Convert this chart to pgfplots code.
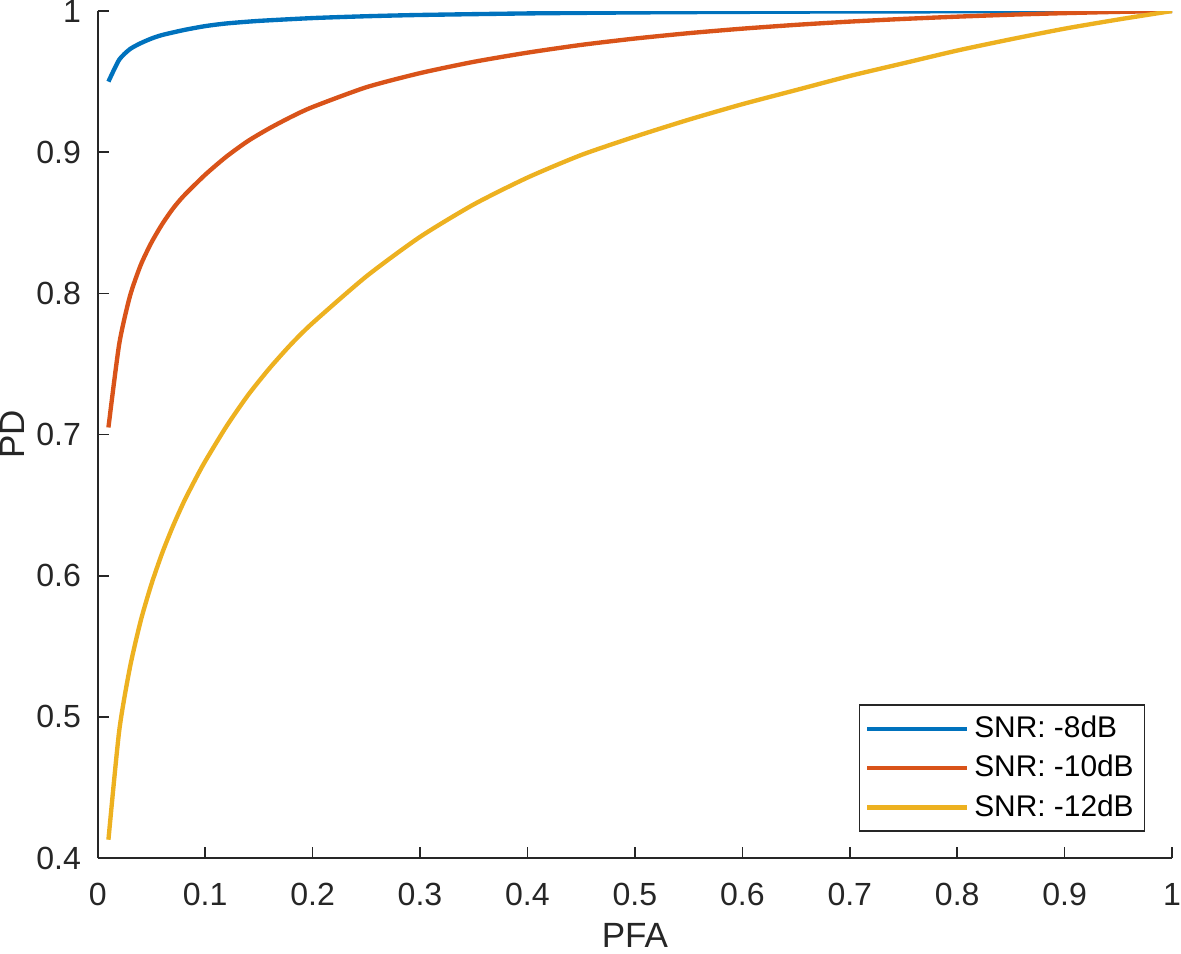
\documentclass[border=0pt]{standalone}
\usepackage{pgfplots}
\pgfplotsset{compat=1.18}
\usepackage{fontspec}
\setmainfont{Liberation Sans}

\definecolor{mblue}{rgb}{0,0.447,0.741}
\definecolor{mred}{rgb}{0.85,0.325,0.098}
\definecolor{myellow}{rgb}{0.929,0.694,0.125}
\definecolor{axgray}{rgb}{0.15,0.15,0.15}

% ROC curves
\pgfplotstableread{
pfa pd
0.01 0.9500
0.02 0.9655
0.03 0.9730
0.04 0.9772
0.05 0.9805
0.06 0.9830
0.08 0.9865
0.10 0.9893
0.12 0.9912
0.15 0.9930
0.20 0.9950
0.25 0.9963
0.30 0.9972
0.40 0.9983
0.50 0.9990
0.60 0.9994
0.70 0.9997
0.80 0.9998
0.90 0.9999
1.00 1.0000
}\snreight

\pgfplotstableread{
pfa pd
0.01 0.705
0.02 0.764
0.03 0.798
0.04 0.820
0.05 0.836
0.06 0.849
0.07 0.860
0.08 0.869
0.10 0.884
0.12 0.897
0.14 0.908
0.16 0.917
0.18 0.925
0.20 0.932
0.25 0.946
0.30 0.956
0.35 0.964
0.40 0.9705
0.45 0.976
0.50 0.9805
0.55 0.9843
0.60 0.9875
0.65 0.9902
0.70 0.9925
0.75 0.9944
0.80 0.9960
0.85 0.9974
0.90 0.9985
0.95 0.9994
1.00 1.000
}\snrten

\pgfplotstableread{
pfa pd
0.01 0.413
0.02 0.490
0.03 0.535
0.04 0.568
0.05 0.594
0.06 0.616
0.07 0.635
0.08 0.652
0.09 0.667
0.10 0.681
0.12 0.706
0.14 0.728
0.16 0.747
0.18 0.764
0.20 0.779
0.25 0.812
0.30 0.840
0.35 0.863
0.40 0.882
0.45 0.898
0.50 0.911
0.55 0.923
0.60 0.934
0.65 0.944
0.70 0.954
0.75 0.963
0.80 0.972
0.85 0.980
0.90 0.9875
0.95 0.994
1.00 1.000
}\snrtwelve

\begin{document}
\begin{tikzpicture}
\begin{axis}[
    scale only axis,
    width=395.6pt, height=311.9pt,
    xmin=0, xmax=1, ymin=0.4, ymax=1,
    xtick={0,0.1,...,1.01}, ytick={0.4,0.5,...,1.01},
    axis x line*=bottom, axis y line*=left,
    tick align=inside,
    major tick length=4pt,
    axis line style={axgray, line width=0.6pt},
    every tick/.style={axgray, line width=0.6pt},
    /pgf/number format/assume math mode=true,
    /pgf/number format/.cd, fixed, precision=1, /pgfplots/.cd,
    tick label style={font=\fontsize{11.8}{13}\selectfont, text=axgray, inner sep=0pt},
    xticklabel style={yshift=-9pt},
    yticklabel style={xshift=-6pt},
    label style={font=\fontsize{12.9}{15}\selectfont, text=axgray, inner sep=0pt},
    xlabel={PFA\rule[-2pt]{0pt}{1pt}}, ylabel={PD},
    xlabel style={at={(axis description cs:0.5,-0.077)}, anchor=north},
    ylabel style={at={(axis description cs:-0.068,0.5)}, anchor=south},
    legend style={at={(0.975,0.031)}, anchor=south east, draw=axgray,
        line width=0.5pt, font=\fontsize{11}{13}\selectfont, text=black,
        inner xsep=2pt, inner ysep=2pt, row sep=1pt},
    legend cell align=left,
    legend image code/.code={\draw[#1] (0pt,0pt) -- (36.7pt,0pt);},
    every axis plot/.append style={line width=1.6pt, smooth, tension=0.4},
]
\addplot[mblue] table[x=pfa, y=pd] {\snreight};
\addplot[mred] table[x=pfa, y=pd] {\snrten};
\addplot[myellow] table[x=pfa, y=pd] {\snrtwelve};
\legend{SNR: -8dB, SNR: -10dB, SNR: -12dB}
\end{axis}
\end{tikzpicture}
\end{document}
